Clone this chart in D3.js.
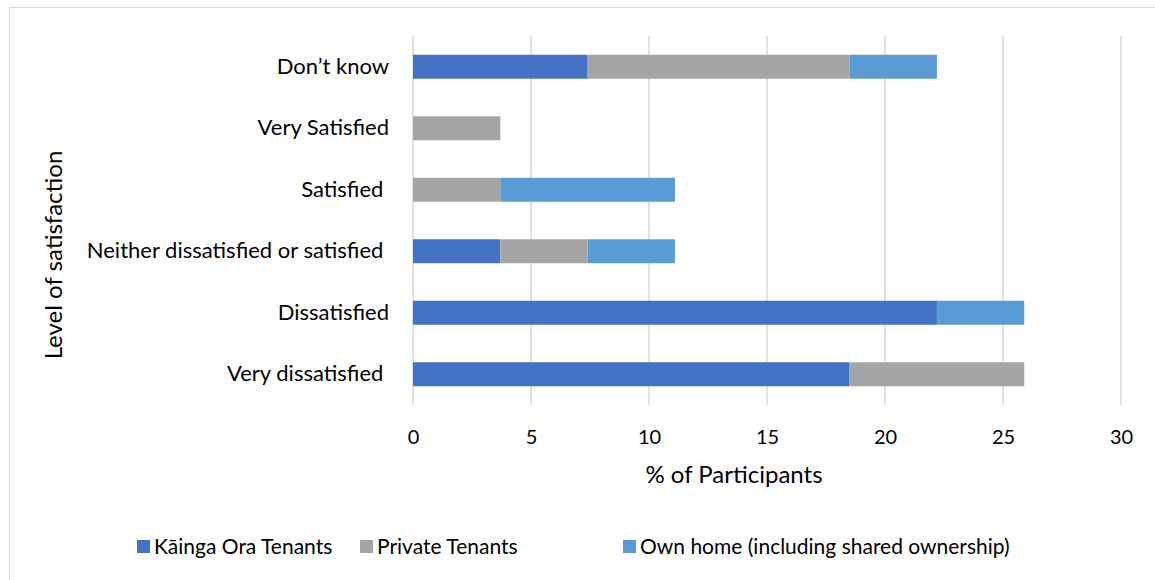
<!DOCTYPE html>
<html>
<head>
<meta charset="utf-8">
<script src="https://cdn.jsdelivr.net/npm/d3@7"></script>
<style>
  body { margin: 0; background: #fff; }
  text { font-family: Lato, "Open Sans", sans-serif; fill: #000; white-space: pre; }
</style>
</head>
<body>
<svg id="drawing_region"></svg>
<script>
// categories, top to bottom
const categories = ["Don\u2019t know", "Very Satisfied", "Satisfied ", "Neither dissatisfied or satisfied ", "Dissatisfied", "Very dissatisfied "];
const seriesNames = ["K\u0101inga Ora Tenants", "Private Tenants", "Own home (including shared ownership)"];
const kaingaOra = [7.4, 0, 0, 3.7, 22.2, 18.5];
const privateTenants = [11.1, 3.7, 3.7, 3.7, 0, 7.4];
const ownHome = [3.7, 0, 7.4, 3.7, 3.7, 0];
const xTicks = [0, 5, 10, 15, 20, 25, 30];
const colors = ["#4472C4", "#A5A5A5", "#5B9BD5"];

const width = 1155, height = 580;
const margin = {top: 36, right: 35, bottom: 175, left: 413};
const inner_width = 1121 - margin.left;
const inner_height = 405 - margin.top;

const svg = d3.select('#drawing_region')
    .attr('width', width)
    .attr('height', height);

// outer chart border
svg.append('rect')
    .attr('x', 9.5).attr('y', 7.5)
    .attr('width', 1160).attr('height', 600)
    .attr('fill', 'none')
    .attr('stroke', '#d9d9d9')
    .attr('stroke-width', 1);

const chart = svg.append('g')
    .attr('transform', `translate(${margin.left}, ${margin.top})`);

const xscale = d3.scaleLinear()
    .domain([0, 30])
    .range([0, inner_width]);

const yscale = d3.scaleBand()
    .domain(categories)
    .range([0, inner_height])
    .paddingInner(0.61)
    .paddingOuter(0.305);

// gridlines
chart.append('g')
    .selectAll('line')
    .data(xTicks)
    .join('line')
    .attr('x1', d => xscale(d)).attr('x2', d => xscale(d))
    .attr('y1', 0).attr('y2', inner_height)
    .attr('stroke', '#d9d9d9')
    .attr('stroke-width', 1.5);

// stacked data
const table = categories.map((c, i) => ({
    cat: c, k: kaingaOra[i], p: privateTenants[i], o: ownHome[i]
}));
const stack = d3.stack().keys(['k', 'p', 'o']);
const layers = stack(table);

chart.append('g')
    .selectAll('g')
    .data(layers)
    .join('g')
    .attr('fill', (d, i) => colors[i])
    .selectAll('rect')
    .data(d => d.filter(s => s[1] - s[0] > 0))
    .join('rect')
    .attr('x', d => xscale(d[0]))
    .attr('width', d => xscale(d[1]) - xscale(d[0]))
    .attr('y', d => yscale(d.data.cat))
    .attr('height', yscale.bandwidth());

// x axis
const xaxis = d3.axisBottom(xscale)
    .tickValues(xTicks)
    .tickSize(0)
    .tickPadding(25);
const xaxis_group = chart.append('g')
    .attr('transform', `translate(0, ${inner_height})`)
    .call(xaxis);
xaxis_group.select('.domain').remove();
xaxis_group.selectAll('text')
    .attr('font-size', '20px')
    .attr('font-family', 'Lato');

// y axis
const yaxis = d3.axisLeft(yscale)
    .tickSize(0)
    .tickPadding(24);
const yaxis_group = chart.append('g')
    .call(yaxis);
yaxis_group.select('.domain').remove();
yaxis_group.selectAll('text')
    .attr('font-size', '22px')
    .attr('font-family', 'Lato');

// axis titles
svg.append('text')
    .attr('x', 734)
    .attr('y', 483)
    .attr('text-anchor', 'middle')
    .attr('font-size', '24px')
    .text('% of Participants');

svg.append('text')
    .attr('transform', 'translate(62, 255) rotate(-90)')
    .attr('text-anchor', 'middle')
    .attr('font-size', '24px')
    .text('Level of satisfaction');

// legend
const legendX = [137, 360, 623];
const legend = svg.append('g')
    .selectAll('g')
    .data(seriesNames)
    .join('g')
    .attr('transform', (d, i) => `translate(${legendX[i]}, 547)`);
legend.append('rect')
    .attr('x', 0).attr('y', -7)
    .attr('width', 13).attr('height', 13)
    .attr('fill', (d, i) => colors[i]);
legend.append('text')
    .attr('x', 17)
    .attr('y', 7)
    .attr('font-size', '21px')
    .text(d => d);
</script>
</body>
</html>
